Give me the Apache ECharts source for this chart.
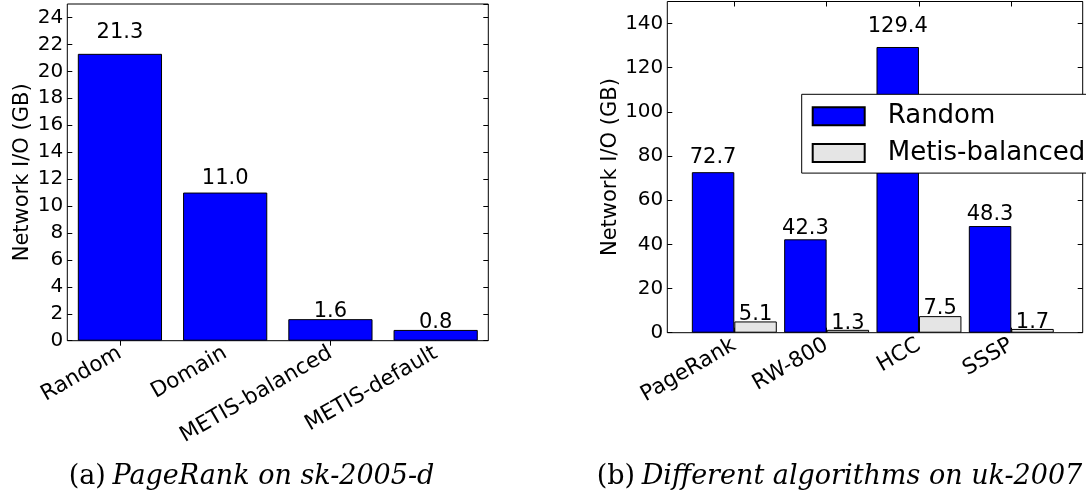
<!DOCTYPE html>
<html>
<head>
<meta charset="utf-8">
<script src="https://cdn.jsdelivr.net/npm/echarts@6/dist/echarts.min.js"></script>
<style>
  html, body { margin: 0; padding: 0; background: #fff; }
  #chart { width: 1086px; height: 494px; }
</style>
</head>
<body>
<div id="chart"></div>
<script>
  // (a) PageRank on sk-2005-d
  var skCategories = ['Random', 'Domain', 'METIS-balanced', 'METIS-default'];
  var skValues = [21.3, 11.0, 1.6, 0.8];
  // (b) different algorithms on uk-2007
  var ukAlgorithms = ['PageRank', 'RW-800', 'HCC', 'SSSP'];
  var ukRandom = [72.7, 42.3, 129.4, 48.3];
  var ukMetis = [5.1, 1.3, 7.5, 1.7];
  var seriesNames = ['Random', 'Metis-balanced'];

  var FONT = 'DejaVu Sans';
  var SERIF = 'DejaVu Serif';
  var BLUE = '#0000ff';
  var GREY = '#e5e5e5';

  // matplotlib puts the value text at 1.05 * height
  var withLabels = function (values, pxPerUnit) {
    return values.map(function (v) {
      return { value: v, label: { distance: 0.05 * v * pxPerUnit - 4 } };
    });
  };
  var valueLabel = {
    show: true, position: 'top', color: '#000', fontFamily: FONT, fontSize: 21,
    formatter: function (p) { return p.value.toFixed(1); }
  };
  var inTick = { show: true, inside: true, length: 5, alignWithLabel: true, lineStyle: { color: '#000' } };
  var noLine = { show: false };
  var catLabel = { rotate: 30, margin: 11, color: '#000', fontFamily: FONT, fontSize: 21.5 };
  var caption = function (tag, text) {
    return '{r|' + tag + '}  {i|' + text + '}';
  };
  var captionRich = {
    r: { fontFamily: SERIF, fontSize: 27, fill: '#000' },
    i: { fontFamily: SERIF, fontStyle: 'italic', fontSize: 27, fill: '#000' }
  };

  var chart = echarts.init(document.getElementById('chart'));
  chart.setOption({
    animation: false,
    backgroundColor: '#fff',
    grid: [
      { left: 67.3, right: 597.7, top: 4, bottom: 153.3, show: true, borderColor: '#000', borderWidth: 1 },
      { left: 667.3, right: 3.3, top: 1.5, bottom: 161.3, show: true, borderColor: '#000', borderWidth: 1 },
      { left: 688.15, right: 28.55, top: 1.5, bottom: 161.3 }
    ],
    xAxis: [
      { gridIndex: 0, type: 'category', position: 'bottom', data: skCategories, axisLine: noLine, axisTick: inTick,
        axisLabel: catLabel },
      { gridIndex: 0, type: 'category', position: 'top', data: skCategories, axisLine: noLine, axisTick: inTick,
        axisLabel: { show: false } },
      { gridIndex: 1, type: 'value', show: false },
      { gridIndex: 2, type: 'category', position: 'bottom', data: ukAlgorithms, axisLine: noLine, axisTick: inTick,
        axisLabel: catLabel },
      { gridIndex: 2, type: 'category', position: 'top', data: ukAlgorithms, axisLine: noLine, axisTick: inTick,
        axisLabel: { show: false } }
    ],
    yAxis: [
      { gridIndex: 0, type: 'value', position: 'left', min: 0, max: 25, interval: 2,
        axisLine: noLine, axisTick: inTick, splitLine: noLine,
        axisLabel: { showMaxLabel: false, margin: 4, color: '#000', fontFamily: FONT, fontSize: 20 },
        name: 'Network I/O (GB)', nameLocation: 'middle', nameGap: 34,
        nameTextStyle: { color: '#000', fontFamily: FONT, fontSize: 21 } },
      { gridIndex: 0, type: 'value', position: 'right', min: 0, max: 25, interval: 2,
        axisLine: noLine, axisTick: inTick, splitLine: noLine, axisLabel: { show: false } },
      { gridIndex: 1, type: 'value', position: 'left', min: 0, max: 150, interval: 20,
        axisLine: noLine, axisTick: inTick, splitLine: noLine,
        axisLabel: { showMaxLabel: false, margin: 4, color: '#000', fontFamily: FONT, fontSize: 20 },
        name: 'Network I/O (GB)', nameLocation: 'middle', nameGap: 46,
        nameTextStyle: { color: '#000', fontFamily: FONT, fontSize: 21 } },
      { gridIndex: 1, type: 'value', position: 'right', min: 0, max: 150, interval: 20,
        axisLine: noLine, axisTick: inTick, splitLine: noLine, axisLabel: { show: false } },
      { gridIndex: 2, type: 'value', min: 0, max: 150, show: false }
    ],
    legend: {
      data: seriesNames, orient: 'vertical', left: 801.7, top: 94.3, z: 10,
      itemWidth: 52, itemHeight: 18, itemGap: 10.8, padding: [8.9, 60, 7.1, 10],
      backgroundColor: '#fff', borderColor: '#000', borderWidth: 1, borderRadius: 0,
      icon: 'rect',
      textStyle: { color: '#000', fontFamily: FONT, fontSize: 26, padding: [0, 0, 0, 18] }
    },
    graphic: [
      { type: 'text', x: 251.5, y: 477, style: {
          text: caption('(a)', 'PageRank on sk-2005-d'), align: 'center', verticalAlign: 'middle', rich: captionRich } },
      { type: 'text', x: 596.7, y: 477, style: {
          text: caption('(b)', 'Different algorithms on uk-2007'), align: 'left', verticalAlign: 'middle', rich: captionRich } }
    ],
    series: [
      { type: 'bar', xAxisIndex: 0, yAxisIndex: 0, barWidth: '80%',
        itemStyle: { color: BLUE, borderColor: '#000', borderWidth: 1 },
        label: valueLabel, data: withLabels(skValues, 13.468) },
      { type: 'bar', name: seriesNames[0], xAxisIndex: 3, yAxisIndex: 4, barWidth: '46%', barGap: '0%',
        itemStyle: { color: BLUE, borderColor: '#000', borderWidth: 1 },
        label: valueLabel, data: withLabels(ukRandom, 2.208) },
      { type: 'bar', name: seriesNames[1], xAxisIndex: 3, yAxisIndex: 4, barWidth: '46%', barGap: '0%',
        itemStyle: { color: GREY, borderColor: '#000', borderWidth: 1 },
        label: valueLabel, data: withLabels(ukMetis, 2.208) }
    ]
  });
</script>
</body>
</html>
